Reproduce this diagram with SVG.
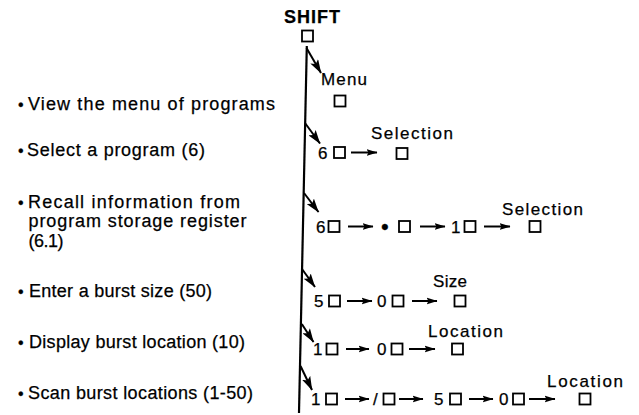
<svg xmlns="http://www.w3.org/2000/svg" width="639" height="415" viewBox="0 0 639 415">
<style>
text{font-family:"Liberation Sans",Arial,Helvetica,sans-serif;fill:#000;stroke:#000;stroke-width:0.25}
.lbl{font-size:18px}
.bul{font-size:16px}
.key{font-size:17px}
.dot{font-size:22px}
.cap{font-size:17px}
.shift{font-size:18px;font-weight:bold}
.sq{fill:#fff;stroke:#000;stroke-width:1.8}
.ln{stroke:#000;stroke-width:2.2;fill:none}
.ha{stroke:#000;stroke-width:2;fill:none;marker-end:url(#h)}
.da{stroke:#000;stroke-width:2;fill:none;marker-end:url(#d)}
</style>
<defs>
<marker id="h" markerUnits="userSpaceOnUse" viewBox="0 0 11 8" refX="10.5" refY="4" markerWidth="11" markerHeight="8" orient="auto"><path d="M0,0.5 L11,4 L0,7.5 L2,4 z" fill="#000"/></marker>
<marker id="d" markerUnits="userSpaceOnUse" viewBox="0 0 14 9" refX="13.5" refY="4.5" markerWidth="14" markerHeight="9" orient="auto"><path d="M0,0 L14,4.5 L0,9 L3,4.5 z" fill="#000"/></marker>
</defs>

<g id="connectors">
<line class="ln" x1="306.8" y1="46" x2="299" y2="413"/>
<line class="da" x1="306.5" y1="48" x2="321" y2="73"/>
<line class="da" x1="305" y1="123" x2="320" y2="143.5"/>
<line class="da" x1="304" y1="193" x2="318.5" y2="212"/>
<line class="da" x1="302" y1="269" x2="315" y2="287"/>
<line class="da" x1="301.8" y1="324" x2="313.5" y2="342"/>
<line class="da" x1="300.5" y1="366" x2="312" y2="390"/>
<line class="ha" x1="351" y1="152.5" x2="377" y2="152.5"/>
<line class="ha" x1="348" y1="226.5" x2="373" y2="226.5"/>
<line class="ha" x1="420" y1="226.5" x2="445" y2="226.5"/>
<line class="ha" x1="484" y1="226.5" x2="510" y2="226.5"/>
<line class="ha" x1="347" y1="301" x2="372" y2="301"/>
<line class="ha" x1="412" y1="301" x2="437" y2="301"/>
<line class="ha" x1="346" y1="349" x2="369" y2="349"/>
<line class="ha" x1="409" y1="349" x2="435" y2="349"/>
<line class="ha" x1="345" y1="399" x2="369" y2="399"/>
<line class="ha" x1="399" y1="399" x2="423" y2="399"/>
<line class="ha" x1="469" y1="399" x2="493" y2="399"/>
<line class="ha" x1="529" y1="399" x2="555" y2="399"/>
</g>

<g id="shift">
<text class="shift" x="284" y="23" textLength="56" lengthAdjust="spacing">SHIFT</text>
<rect class="sq" x="302" y="30.5" width="11" height="11"/>
</g>

<g id="step-menu">
<text class="bul" x="18" y="109.5">•</text>
<text class="lbl" x="28" y="110" textLength="247" lengthAdjust="spacing">View the menu of programs</text>
<text class="cap" x="321" y="85" textLength="46" lengthAdjust="spacing">Menu</text>
<rect class="sq" x="334.5" y="95.5" width="11" height="11"/>
</g>

<g id="step-select">
<text class="bul" x="18" y="155.5">•</text>
<text class="lbl" x="27" y="156" textLength="178" lengthAdjust="spacing">Select a program (6)</text>
<text class="cap" x="371" y="138.5" textLength="82" lengthAdjust="spacing">Selection</text>
<text class="key" x="318" y="158.5">6</text>
<rect class="sq" x="334" y="147" width="11" height="11"/>
<rect class="sq" x="396.5" y="148" width="11" height="11"/>
</g>

<g id="step-recall">
<text class="bul" x="18" y="207.5">•</text>
<text class="lbl" x="28" y="208" textLength="212" lengthAdjust="spacing">Recall information from</text>
<text class="lbl" x="28.5" y="227" textLength="218" lengthAdjust="spacing">program storage register</text>
<text class="lbl" x="28.5" y="247" textLength="35" lengthAdjust="spacing">(6.1)</text>
<text class="cap" x="502" y="215" textLength="81" lengthAdjust="spacing">Selection</text>
<text class="key" x="316" y="232.5">6</text>
<rect class="sq" x="328.5" y="221" width="11" height="11"/>
<text class="dot" x="381" y="234">•</text>
<rect class="sq" x="399" y="221" width="11" height="11"/>
<text class="key" x="451" y="232.5">1</text>
<rect class="sq" x="464.5" y="221" width="11" height="11"/>
<rect class="sq" x="529.5" y="221" width="11" height="11"/>
</g>

<g id="step-size">
<text class="bul" x="18" y="296.5">•</text>
<text class="lbl" x="29" y="297" textLength="183" lengthAdjust="spacing">Enter a burst size (50)</text>
<text class="cap" x="433" y="286.5" textLength="34" lengthAdjust="spacing">Size</text>
<text class="key" x="314" y="307">5</text>
<rect class="sq" x="329" y="295.5" width="11" height="11"/>
<text class="key" x="377" y="307">0</text>
<rect class="sq" x="392.5" y="295.5" width="11" height="11"/>
<rect class="sq" x="454.5" y="295.5" width="11" height="11"/>
</g>

<g id="step-location">
<text class="bul" x="18" y="347.5">•</text>
<text class="lbl" x="29" y="348" textLength="216" lengthAdjust="spacing">Display burst location (10)</text>
<text class="cap" x="428" y="337" textLength="75" lengthAdjust="spacing">Location</text>
<text class="key" x="313" y="355">1</text>
<rect class="sq" x="326.5" y="343.5" width="11" height="11"/>
<text class="key" x="377" y="355">0</text>
<rect class="sq" x="391.5" y="343.5" width="11" height="11"/>
<rect class="sq" x="452" y="343.5" width="11" height="11"/>
</g>

<g id="step-scan">
<text class="bul" x="18" y="398.5">•</text>
<text class="lbl" x="28" y="399" textLength="225" lengthAdjust="spacing">Scan burst locations (1-50)</text>
<text class="cap" x="547" y="387" textLength="76" lengthAdjust="spacing">Location</text>
<text class="key" x="311" y="405">1</text>
<rect class="sq" x="326" y="393.5" width="11" height="11"/>
<text class="key" x="373" y="405">/</text>
<rect class="sq" x="383.5" y="393.5" width="11" height="11"/>
<text class="key" x="434" y="405">5</text>
<rect class="sq" x="450" y="393.5" width="11" height="11"/>
<text class="key" x="499" y="405">0</text>
<rect class="sq" x="513" y="393.5" width="11" height="11"/>
<rect class="sq" x="579.5" y="393.5" width="11" height="11"/>
</g>
</svg>
